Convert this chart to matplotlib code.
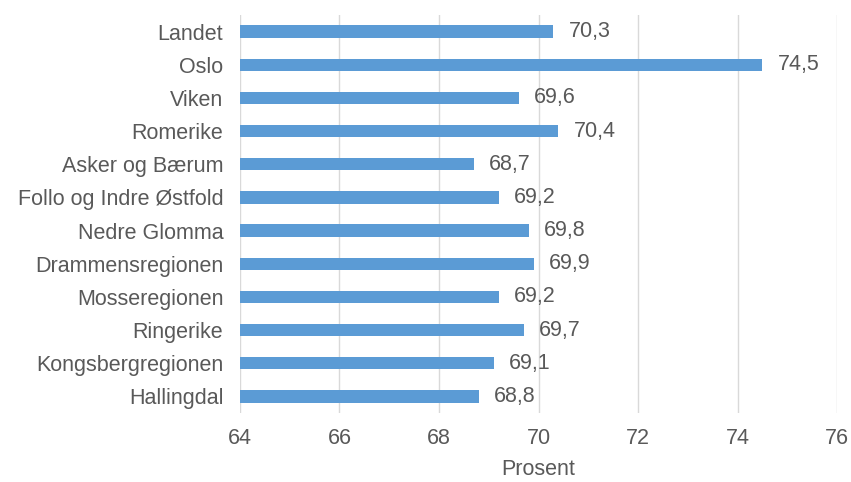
import matplotlib.pyplot as plt
import numpy as np

regions = ["Landet", "Oslo", "Viken", "Romerike", "Asker og Bærum",
           "Follo og Indre Østfold", "Nedre Glomma", "Drammensregionen",
           "Mosseregionen", "Ringerike", "Kongsbergregionen", "Hallingdal"]
values = [70.3, 74.5, 69.6, 70.4, 68.7, 69.2, 69.8, 69.9, 69.2, 69.7, 69.1, 68.8]

x_ticks = [64, 66, 68, 70, 72, 74, 76]

plt.rcParams['font.family'] = ['Liberation Sans', 'DejaVu Sans']
text_color = '#595959'
font_size = 15.5

fig = plt.figure(figsize=(8.51, 4.82), dpi=100, facecolor='w')
ax = fig.add_axes([0.282, 0.143, 0.7016, 0.826])

y = np.arange(len(regions))
base = x_ticks[0]
ax.barh(y, np.array(values) - base, left=base, height=0.37, color='#5B9BD5', zorder=3)

# value labels, with comma as decimal sign
for yi, v in zip(y, values):
    ax.annotate(("%.1f" % v).replace('.', ','), xy=(v, yi), xytext=(11, 0),
                textcoords='offset points', va='center', ha='left',
                fontsize=font_size, color=text_color)

ax.set_xlim(x_ticks[0], x_ticks[-1])
ax.set_ylim(len(regions) - 0.5, -0.5)
ax.set_xticks(x_ticks)
ax.set_yticks(y)
ax.set_yticklabels(regions)
ax.tick_params(axis='both', length=0, labelsize=font_size, colors=text_color)
ax.tick_params(axis='x', pad=11)
ax.tick_params(axis='y', pad=12)
ax.grid(axis='x', color='#d9d9d9', linewidth=1, zorder=0)
for spine in ax.spines.values():
    spine.set_visible(False)
ax.set_xlabel("Prosent", fontsize=font_size, color=text_color, labelpad=7)

plt.savefig("out.png", dpi=100)
